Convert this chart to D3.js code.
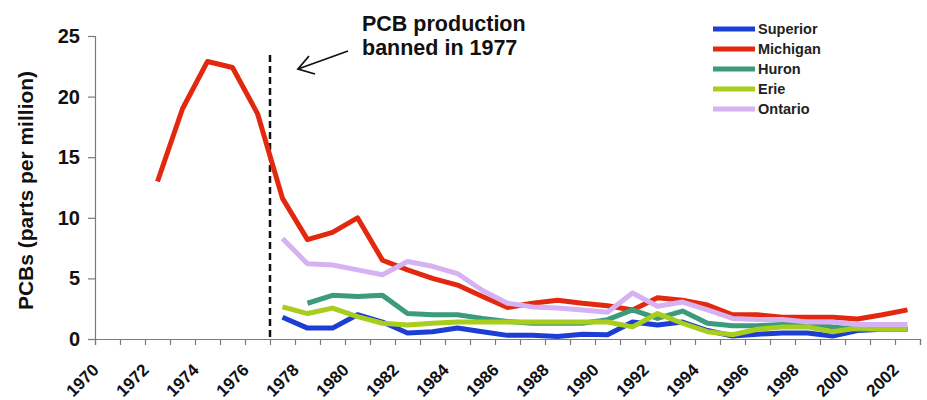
<!DOCTYPE html>
<html lang="en">
<head>
  <meta charset="UTF-8">
  <title>PCBs in the Great Lakes</title>
  <script src="https://d3js.org/d3.v7.min.js"></script>
  <style>
    body { margin: 0; background: #fff; font-family: "Liberation Sans", Arial, sans-serif; }
    svg { display: block; }
  </style>
</head>
<body>
  <svg width="927" height="400"></svg>
  <script>
    // years 1970..2002 (category axis)
    const years = d3.range(1970, 2003);
    const tickLabels = ["1970","1972","1974","1976","1978","1980","1982","1984","1986","1988","1990","1992","1994","1996","1998","2000","2002"];
    const yTicks = [0, 5, 10, 15, 20, 25];

    const lakes = ["Superior", "Michigan", "Huron", "Erie", "Ontario"];
    const colors = ["#1c3ed2", "#e2290f", "#3b9b7a", "#a9cd1c", "#d6b2f2"];

    const michiganYears = d3.range(1972, 2003);
    const michigan = [13.0, 19.0, 22.9, 22.4, 18.6, 11.6, 8.2, 8.8, 10.0, 6.5, 5.7, 5.0, 4.45, 3.5, 2.6, 2.95, 3.2, 2.95, 2.75, 2.4, 3.4, 3.2, 2.8, 2.0, 2.0, 1.8, 1.8, 1.8, 1.65, 2.0, 2.4];

    const ontarioYears = d3.range(1977, 2003);
    const ontario = [8.3, 6.2, 6.1, 5.7, 5.3, 6.4, 6.0, 5.4, 4.0, 2.95, 2.65, 2.55, 2.4, 2.2, 3.8, 2.7, 3.05, 2.4, 1.7, 1.6, 1.6, 1.4, 1.4, 1.2, 1.2, 1.2];

    const huronYears = d3.range(1978, 2003);
    const huron = [2.95, 3.6, 3.5, 3.6, 2.1, 2.0, 2.0, 1.7, 1.45, 1.3, 1.3, 1.3, 1.6, 2.4, 1.7, 2.3, 1.3, 1.1, 1.1, 1.2, 1.3, 1.0, 0.8, 0.8, 0.85];

    const erieYears = d3.range(1977, 2003);
    const erie = [2.65, 2.1, 2.55, 1.85, 1.3, 1.15, 1.3, 1.4, 1.4, 1.4, 1.4, 1.4, 1.4, 1.4, 1.0, 2.1, 1.3, 0.6, 0.35, 0.8, 1.0, 1.0, 0.6, 0.9, 0.8, 0.8];

    const superiorYears = d3.range(1977, 2003);
    const superior = [1.8, 0.9, 0.9, 2.0, 1.4, 0.5, 0.6, 0.9, 0.6, 0.3, 0.3, 0.2, 0.4, 0.35, 1.4, 1.15, 1.4, 0.7, 0.25, 0.4, 0.5, 0.5, 0.25, 0.7, 0.8, 0.8];

    const banYear = 1977;

    const series = [
      { name: "Superior", years: superiorYears, values: superior },
      { name: "Michigan", years: michiganYears, values: michigan },
      { name: "Huron", years: huronYears, values: huron },
      { name: "Erie", years: erieYears, values: erie },
      { name: "Ontario", years: ontarioYears, values: ontario }
    ];

    const svg = d3.select("svg");
    const color = d3.scaleOrdinal().domain(lakes).range(colors);

    const x = d3.scaleBand().domain(years).range([95, 920]);
    const y = d3.scaleLinear().domain([0, 25]).range([339, 36]);
    const xc = yr => x(yr) + x.bandwidth() / 2;

    const axisColor = "#7a7a7a";

    // y axis
    const yAxis = svg.append("g")
      .attr("transform", "translate(95,0)")
      .call(d3.axisLeft(y).tickValues(yTicks).tickSize(7).tickPadding(8));
    yAxis.select(".domain").attr("stroke", axisColor).attr("stroke-width", 1.2);
    yAxis.selectAll(".tick line").attr("stroke", axisColor).attr("stroke-width", 1.2);
    yAxis.selectAll("text")
      .attr("font-family", "Liberation Sans, Arial, sans-serif")
      .attr("font-size", 20).attr("font-weight", "bold").attr("fill", "#111");

    // x axis: ticks at category boundaries
    const xb = d3.scaleLinear().domain([1970, 2003]).range([95, 920]);
    const xAxis = svg.append("g")
      .attr("transform", "translate(0,339)")
      .call(d3.axisBottom(xb).tickValues(d3.range(1970, 2004)).tickSize(6).tickFormat(""));
    xAxis.select(".domain").attr("stroke", axisColor).attr("stroke-width", 1.2);
    xAxis.selectAll(".tick line").attr("stroke", axisColor).attr("stroke-width", 1.2);

    svg.append("g").selectAll("text")
      .data(tickLabels)
      .join("text")
      .attr("transform", d => `translate(${xb(+d) + 5},${371}) rotate(-45)`)
      .attr("text-anchor", "end")
      .attr("font-size", 17).attr("font-weight", "bold").attr("fill", "#111")
      .text(d => d);

    // y title
    svg.append("text")
      .attr("transform", `translate(33,${(36 + 339) / 2 + 3}) rotate(-90)`)
      .attr("text-anchor", "middle")
      .attr("font-size", 21).attr("font-weight", "bold").attr("fill", "#111")
      .text("PCBs (parts per million)");

    // dashed ban line
    svg.append("line")
      .attr("x1", x(banYear)).attr("x2", x(banYear))
      .attr("y1", 55).attr("y2", 339)
      .attr("stroke", "#111").attr("stroke-width", 2.5)
      .attr("stroke-dasharray", "7,4");

    // series lines
    const line = d3.line().x(d => xc(d[0])).y(d => y(d[1]));
    svg.append("g").selectAll("path")
      .data(series)
      .join("path")
      .attr("fill", "none")
      .attr("stroke", d => color(d.name))
      .attr("stroke-width", 5)
      .attr("stroke-linejoin", "round")
      .attr("d", d => line(d.years.map((yr, i) => [yr, d.values[i]])));

    // annotation
    const note = svg.append("text")
      .attr("font-size", 21.5).attr("font-weight", "bold").attr("fill", "#111");
    note.append("tspan").attr("x", 362).attr("y", 31).text("PCB production");
    note.append("tspan").attr("x", 362).attr("y", 55).text("banned in 1977");

    svg.append("line")
      .attr("x1", 348).attr("y1", 51).attr("x2", 298).attr("y2", 69)
      .attr("stroke", "#111").attr("stroke-width", 1.8);
    svg.append("path")
      .attr("d", "M309,56 L298,69 L315,74")
      .attr("fill", "none").attr("stroke", "#111").attr("stroke-width", 1.8);

    // legend
    const legend = svg.append("g").selectAll("g")
      .data(lakes)
      .join("g")
      .attr("transform", (d, i) => `translate(713,${29 + i * 20})`);
    legend.append("line")
      .attr("x1", 0).attr("x2", 42)
      .attr("stroke", d => color(d)).attr("stroke-width", 5);
    legend.append("text")
      .attr("x", 45).attr("dy", "0.35em")
      .attr("font-size", 14.5).attr("font-weight", "bold").attr("fill", "#222")
      .text(d => d);
  </script>
</body>
</html>
